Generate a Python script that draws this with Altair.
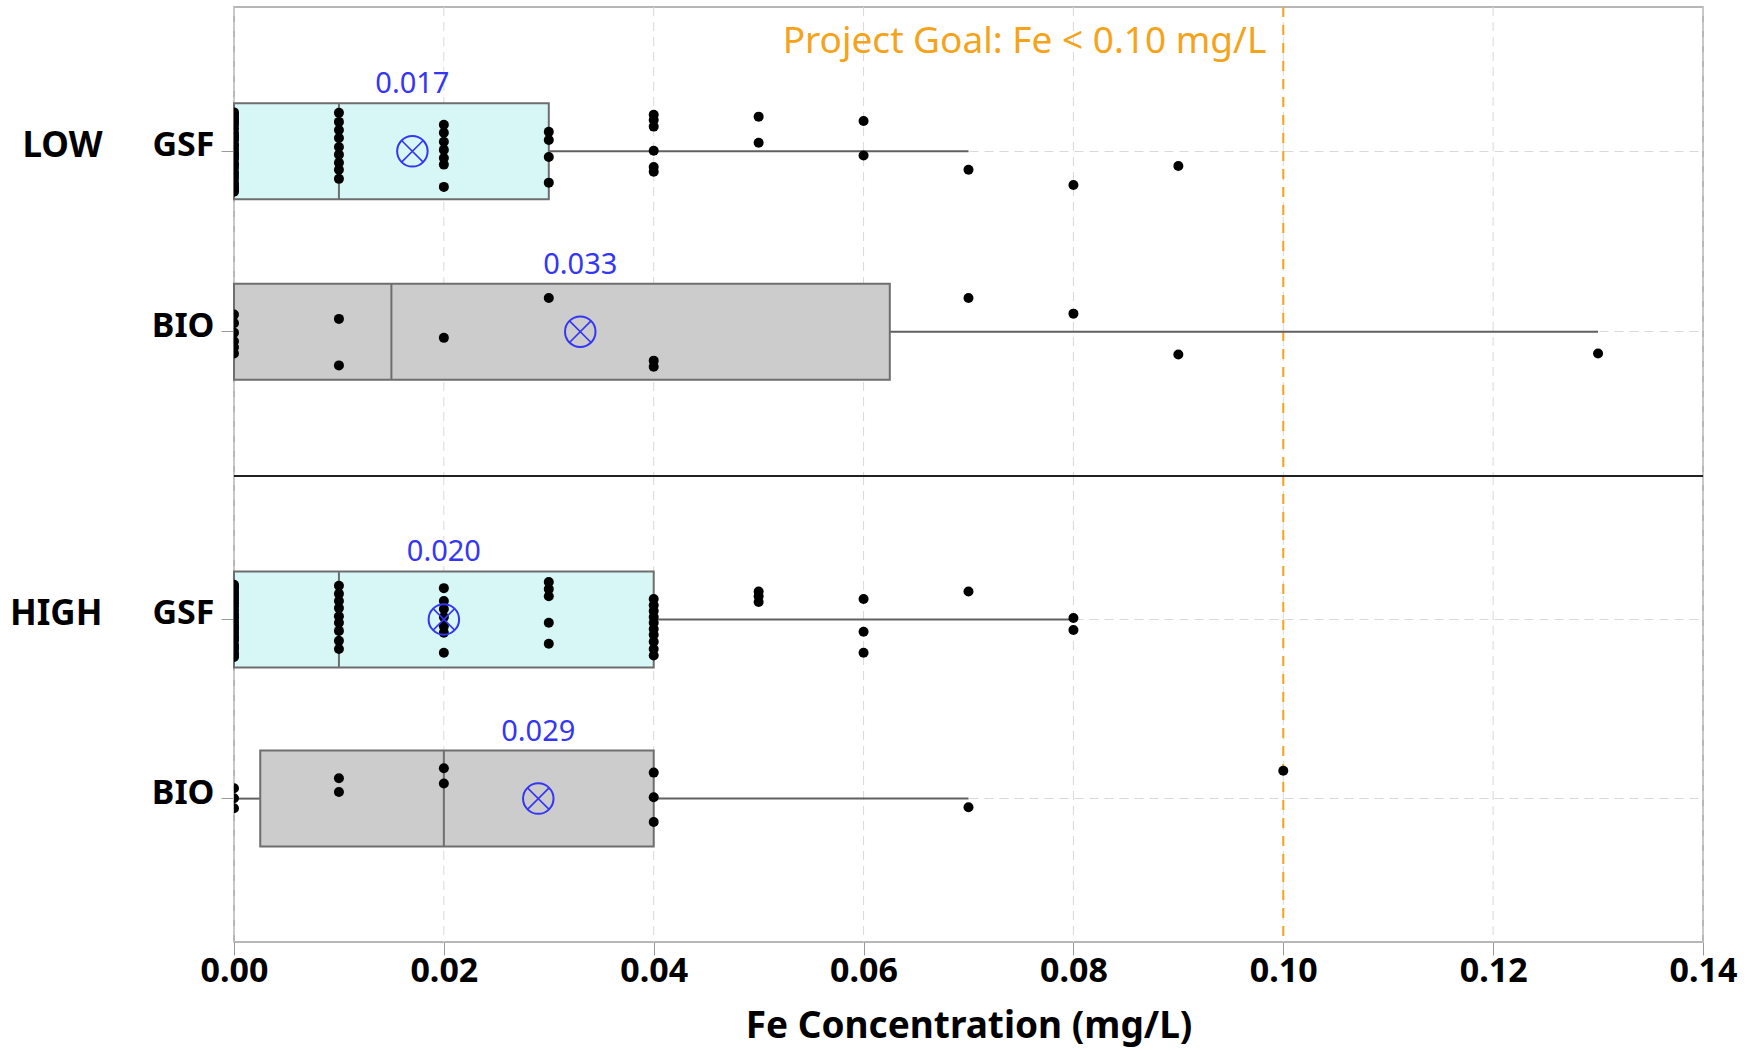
import altair as alt
import pandas as pd

FONT = "Noto Sans"
ORANGE = "#F5A31A"
BLUE = "#3535F5"
BOX_LINE = "#6e6e6e"
FILL_GSF = "#d7f7f7"
FILL_BIO = "#cccccc"
GRID = "#d9d9d9"

# Axis ticks and reference goal
X_TICKS = [0.00, 0.02, 0.04, 0.06, 0.08, 0.10, 0.12, 0.14]
GOAL = [0.10]
GOAL_TEXT = ["Project Goal: Fe < 0.10 mg/L"]
FILTERS = ["GSF", "BIO"]

# Box summary per loading level / filter (Fe, mg/L)
stat_level = ["LOW", "LOW", "HIGH", "HIGH"]
stat_filter = ["GSF", "BIO", "GSF", "BIO"]
q1 = [0.0, 0.0, 0.0, 0.0025]
median = [0.01, 0.015, 0.01, 0.02]
q3 = [0.03, 0.0625, 0.04, 0.04]
whisker_lo = [0.0, 0.0, 0.0, 0.0]
whisker_hi = [0.07, 0.13, 0.08, 0.07]
mean = [0.017, 0.033, 0.020, 0.029]

# Individual samples (Fe, mg/L) with their vertical jitter
low_gsf_fe = [0.00, 0.00, 0.00, 0.00, 0.00, 0.00, 0.00, 0.00, 0.00, 0.00,
              0.00, 0.00, 0.00, 0.00, 0.00, 0.00, 0.00, 0.00, 0.00, 0.00,
              0.00, 0.00, 0.00, 0.00, 0.00, 0.00, 0.00, 0.00, 0.00,
              0.01, 0.01, 0.01, 0.01, 0.01, 0.01, 0.01, 0.01, 0.01,
              0.02, 0.02, 0.02, 0.02, 0.02, 0.02, 0.02,
              0.03, 0.03, 0.03, 0.03,
              0.04, 0.04, 0.04, 0.04, 0.04, 0.04,
              0.05, 0.05, 0.06, 0.06, 0.07, 0.08, 0.09]
low_gsf_jit = [-0.82, -0.15, 0.44, -0.61, 0.07, 0.78, -0.33, 0.25, -0.71, 0.58,
               -0.05, 0.85, -0.48, 0.16, -0.24, 0.67, -0.77, 0.35, -0.56, 0.02,
               0.51, -0.39, 0.73, -0.12, 0.29, -0.66, 0.11, 0.81, -0.29,
               -0.81, -0.62, -0.45, -0.28, -0.09, 0.07, 0.24, 0.39, 0.58,
               -0.56, -0.39, -0.20, -0.03, 0.14, 0.28, 0.75,
               -0.41, -0.24, 0.12, 0.66,
               -0.77, -0.66, -0.52, -0.01, 0.33, 0.43,
               -0.73, -0.18, -0.64, 0.09, 0.39, 0.71, 0.31]

low_bio_fe = [0.00, 0.00, 0.00, 0.00, 0.00, 0.00,
              0.01, 0.01, 0.02, 0.03, 0.04, 0.04,
              0.07, 0.08, 0.09, 0.13]
low_bio_jit = [-0.36, 0.20, -0.18, 0.46, 0.02, 0.33,
               -0.27, 0.71, 0.13, -0.71, 0.61, 0.74,
               -0.71, -0.38, 0.48, 0.46]

high_gsf_fe = [0.00, 0.00, 0.00, 0.00, 0.00, 0.00, 0.00, 0.00, 0.00, 0.00,
               0.00, 0.00, 0.00, 0.00, 0.00, 0.00, 0.00, 0.00, 0.00, 0.00,
               0.00, 0.00, 0.00, 0.00, 0.00, 0.00, 0.00,
               0.01, 0.01, 0.01, 0.01, 0.01, 0.01, 0.01, 0.01, 0.01,
               0.02, 0.02, 0.02, 0.02, 0.02, 0.02, 0.02,
               0.03, 0.03, 0.03, 0.03, 0.03,
               0.04, 0.04, 0.04, 0.04, 0.04, 0.04, 0.04, 0.04, 0.04, 0.04,
               0.05, 0.05, 0.05, 0.06, 0.06, 0.06, 0.07, 0.08, 0.08]
high_gsf_jit = [-0.74, 0.12, -0.35, 0.61, -0.08, 0.43, -0.59, 0.27, -0.21, 0.78,
                -0.47, 0.05, 0.52, -0.66, 0.34, -0.13, 0.69, -0.41, 0.20, -0.02,
                0.57, -0.53, 0.38, -0.29, 0.74, -0.70, 0.15,
                -0.72, -0.55, -0.40, -0.25, -0.08, 0.06, 0.23, 0.44, 0.61,
                -0.67, -0.40, -0.23, -0.06, 0.13, 0.27, 0.69,
                -0.80, -0.65, -0.50, 0.06, 0.50,
                -0.44, -0.31, -0.19, -0.06, 0.06, 0.19, 0.31, 0.46, 0.61, 0.75,
                -0.60, -0.50, -0.38, -0.44, 0.25, 0.69, -0.60, -0.04, 0.21]

high_bio_fe = [0.00, 0.00, 0.00, 0.01, 0.01, 0.02, 0.02,
               0.04, 0.04, 0.04, 0.07, 0.10]
high_bio_jit = [-0.23, -0.02, 0.19, -0.44, -0.15, -0.65, -0.33,
                -0.56, -0.04, 0.48, 0.17, -0.60]

stats = pd.DataFrame({
    "level": stat_level, "filter": stat_filter, "q1": q1, "median": median,
    "q3": q3, "whisker_lo": whisker_lo, "whisker_hi": whisker_hi, "mean": mean,
})

obs = pd.concat([
    pd.DataFrame({"level": "LOW", "filter": "GSF", "fe": low_gsf_fe, "jitter": low_gsf_jit}),
    pd.DataFrame({"level": "LOW", "filter": "BIO", "fe": low_bio_fe, "jitter": low_bio_jit}),
    pd.DataFrame({"level": "HIGH", "filter": "GSF", "fe": high_gsf_fe, "jitter": high_gsf_jit}),
    pd.DataFrame({"level": "HIGH", "filter": "BIO", "fe": high_bio_fe, "jitter": high_bio_jit}),
], ignore_index=True)

goal_df = pd.DataFrame({"goal": GOAL, "label": GOAL_TEXT})
ticks_df = pd.DataFrame({"tick": X_TICKS})

BOX_H = 96
X_SCALE = alt.Scale(domain=[0, 0.14], nice=False, zero=False)
X_MARK = "M-0.7071,-0.7071L0.7071,0.7071M-0.7071,0.7071L0.7071,-0.7071"


def panel(level, height, bottom):
    s = stats[stats["level"] == level]
    p = obs[obs["level"] == level]
    step = height / 2.6

    if bottom:
        x_axis = alt.Axis(values=X_TICKS, format=".2f", title="Fe Concentration (mg/L)",
                          grid=False, domain=False, ticks=True, tickSize=13,
                          tickColor="#9a9a9a", labelPadding=-1, labelFlush=False,
                          titlePadding=20, titleFontSize=37)
    else:
        x_axis = None

    def X(field):
        return alt.X(f"{field}:Q", scale=X_SCALE, axis=x_axis)

    y = alt.Y("filter:N",
              scale=alt.Scale(domain=FILTERS, paddingInner=0, paddingOuter=0.3),
              axis=alt.Axis(title=level, titleAngle=0, titleAlign="right",
                            titleBaseline="middle", titleX=-132,
                            titleY=0.3 * step + step / 2 - 6,
                            grid=True, gridDash=[9, 6], gridColor=GRID,
                            domain=False, ticks=True, tickSize=13, tickColor="#9a9a9a",
                            labelPadding=7, labelOffset=-5))

    # vertical dashed grid at each tick value
    grid = alt.Chart(ticks_df).mark_rule(color=GRID, strokeDash=[9, 6], strokeWidth=1).encode(
        x=X("tick"))

    goal_rule = alt.Chart(goal_df).mark_rule(
        color=ORANGE, strokeDash=[10, 8], strokeWidth=2
    ).encode(x=X("goal"))

    whisk_low = alt.Chart(s).mark_rule(color="#606060", strokeWidth=2).encode(
        x=X("whisker_lo"), x2="q1", y=y)
    whisk_high = alt.Chart(s).mark_rule(color="#606060", strokeWidth=2).encode(
        x=X("q3"), x2="whisker_hi", y=y)

    box = alt.Chart(s).mark_bar(size=BOX_H, stroke=BOX_LINE, strokeWidth=2).encode(
        x=X("q1"), x2="q3", y=y,
        color=alt.Color("filter:N", scale=alt.Scale(domain=FILTERS, range=[FILL_GSF, FILL_BIO]),
                        legend=None))

    med = alt.Chart(s).mark_tick(size=BOX_H, thickness=2, color=BOX_LINE, opacity=1).encode(
        x=X("median"), y=y)

    dots = alt.Chart(p).mark_circle(size=100, color="black", opacity=1, clip=True).encode(
        x=X("fe"), y=y,
        yOffset=alt.YOffset("jitter:Q", scale=alt.Scale(domain=[-1.9, 1.9])))

    mean_ring = alt.Chart(s).mark_point(shape="circle", size=930, filled=False,
                                        color=BLUE, strokeWidth=2, opacity=1).encode(
        x=X("mean"), y=y)
    mean_cross = alt.Chart(s).mark_point(shape=X_MARK, size=930, filled=False,
                                         color=BLUE, strokeWidth=1.6, opacity=1).encode(
        x=X("mean"), y=y)
    mean_text = alt.Chart(s).mark_text(dy=-58, baseline="alphabetic", fontSize=29,
                                       font=FONT, color=BLUE).encode(
        x=X("mean"), y=y, text=alt.Text("mean:Q", format=".3f"))

    layers = [grid, goal_rule, whisk_low, whisk_high, box, med, dots,
              mean_ring, mean_cross, mean_text]

    if bottom:
        # solid separator between the LOW and HIGH blocks
        divider = alt.Chart(goal_df).mark_rule(color="#222222", strokeWidth=2).encode(
            x=alt.value(0), x2=alt.value("width"), y=alt.value(0))
        layers.append(divider)
    else:
        goal_text = alt.Chart(goal_df).mark_text(
            align="right", dx=-17, baseline="middle", fontSize=37, font=FONT, color=ORANGE
        ).encode(x=X("goal"), y=alt.value(35), text="label:N")
        layers.append(goal_text)

    return alt.layer(*layers).properties(width=1469, height=height)


chart = alt.vconcat(
    panel("LOW", 469, False),
    panel("HIGH", 466, True),
    spacing=0,
    bounds="flush",
).resolve_scale(
    y="independent"
).configure_view(
    stroke="#a0a0a0", strokeWidth=1.5
).configure_axis(
    labelFont=FONT, labelFontSize=34, labelFontWeight="bold", labelColor="black",
    titleFont=FONT, titleFontSize=35, titleFontWeight="bold", titleColor="black"
).properties(
    padding={"left": 8, "top": 5, "right": 5, "bottom": 5}
)

chart.save("out.html", embed_options={"renderer": "svg", "actions": False})
